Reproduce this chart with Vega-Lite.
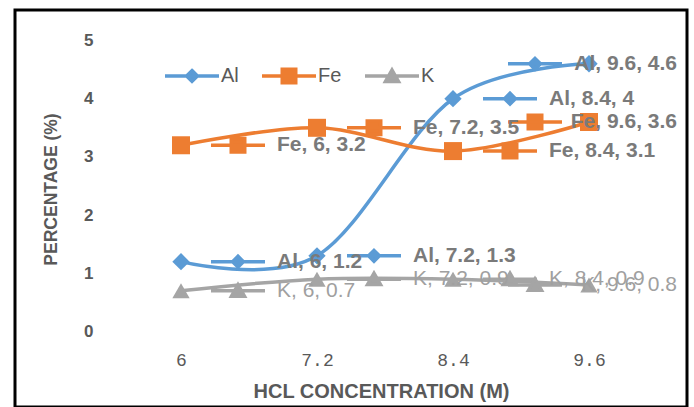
{
  "$schema": "https://vega.github.io/schema/vega-lite/v6.json",
  "width": 672,
  "height": 397,
  "autosize": {"type": "none"},
  "padding": {"left": 15, "top": 10, "right": 7, "bottom": 0},
  "background": "white",
  "config": {"view": {"stroke": "#000000", "strokeWidth": 3}, "font": "Liberation Sans"},
  "data": {"values": [
    {"series": "Al", "x": 6, "y": 1.2, "label": "Al, 6, 1.2"},
    {"series": "Al", "x": 7.2, "y": 1.3, "label": "Al, 7.2, 1.3"},
    {"series": "Al", "x": 8.4, "y": 4, "label": "Al, 8.4, 4"},
    {"series": "Al", "x": 9.6, "y": 4.6, "label": "Al, 9.6, 4.6"},
    {"series": "Fe", "x": 6, "y": 3.2, "label": "Fe, 6, 3.2"},
    {"series": "Fe", "x": 7.2, "y": 3.5, "label": "Fe, 7.2, 3.5"},
    {"series": "Fe", "x": 8.4, "y": 3.1, "label": "Fe, 8.4, 3.1"},
    {"series": "Fe", "x": 9.6, "y": 3.6, "label": "Fe, 9.6, 3.6"},
    {"series": "K", "x": 6, "y": 0.7, "label": "K, 6, 0.7"},
    {"series": "K", "x": 7.2, "y": 0.9, "label": "K, 7.2, 0.9"},
    {"series": "K", "x": 8.4, "y": 0.9, "label": "K, 8.4, 0.9"},
    {"series": "K", "x": 9.6, "y": 0.8, "label": "K, 9.6, 0.8"}
  ]},
  "encoding": {
    "x": {"field": "x", "type": "quantitative", "scale": {"domain": [4.5353, 10.4647], "nice": false, "zero": false},
      "axis": {"values": [6, 7.2, 8.4, 9.6], "format": ".1~f", "domain": false, "ticks": false, "tickSize": 0, "grid": false,
        "labelFont": "Liberation Mono", "labelFontSize": 18, "labelColor": "#595959", "labelPadding": 20, "labelFlush": false, "labelOverlap": false,
        "offset": -75.5, "title": "HCL CONCENTRATION (M)", "titleFont": "Liberation Sans", "titleFontSize": 20, "titleFontWeight": "bold", "titleColor": "#595959",
        "titleX": 366, "titleY": 65.5, "titleAlign": "center", "titleBaseline": "alphabetic"}},
    "y": {"field": "y", "type": "quantitative", "scale": {"domain": [-1.297, 5.524], "nice": false, "zero": false},
      "axis": {"values": [0, 1, 2, 3, 4, 5], "format": "d", "domain": false, "ticks": false, "tickSize": 0, "grid": false,
        "labelFont": "Liberation Sans", "labelFontSize": 17, "labelFontWeight": "bold", "labelColor": "#595959", "labelPadding": 20,
        "offset": -98, "title": "PERCENTAGE (%)", "titleFont": "Liberation Sans", "titleFontSize": 17.5, "titleFontWeight": "bold", "titleColor": "#595959",
        "titleX": -62, "titleY": 179, "titleAngle": -90, "titleAlign": "center", "titleBaseline": "middle"}}
  },
  "layer": [
    {
      "data": {"values": [{}]},
      "mark": {"type": "rule", "color": "#a6a6a6", "strokeWidth": 1.5},
      "encoding": {
        "x": {"datum": 5.4, "type": "quantitative"},
        "x2": {"datum": 10.2},
        "y": {"datum": 0, "type": "quantitative"}
      }
    },
    {
      "data": {"values": [{}]},
      "mark": {"type": "rule", "color": "#000000", "strokeWidth": 2},
      "encoding": {
        "x": {"datum": 5.4, "type": "quantitative"},
        "y": {"datum": 0, "type": "quantitative"},
        "y2": {"datum": 5}
      }
    },
    {
      "mark": {"type": "line", "interpolate": "cardinal", "strokeWidth": 3.5},
      "encoding": {
        "color": {"field": "series", "type": "nominal", "scale": {"domain": ["Al", "Fe", "K"], "range": ["#5B9BD5", "#ED7D31", "#A5A5A5"]}}
      }
    },
    {
      "transform": [{"filter": "datum.series == 'Al'"}],
      "mark": {"type": "point", "filled": true, "shape": "diamond", "size": 300, "opacity": 1},
      "encoding": {"color": {"field": "series", "type": "nominal"}}
    },
    {
      "transform": [{"filter": "datum.series == 'Fe'"}],
      "mark": {"type": "point", "filled": true, "shape": "square", "size": 324, "opacity": 1},
      "encoding": {"color": {"field": "series", "type": "nominal"}}
    },
    {
      "transform": [{"filter": "datum.series == 'K'"}],
      "mark": {"type": "point", "filled": true, "shape": "triangle-up", "size": 300, "opacity": 1},
      "encoding": {"color": {"field": "series", "type": "nominal"}}
    },
    {
      "transform": [{"filter": "datum.x < 9"}],
      "mark": {"type": "point", "filled": true, "size": 2916, "strokeWidth": 3.5, "opacity": 1, "xOffset": 57},
      "encoding": {
        "color": {"field": "series", "type": "nominal",
          "legend": {"orient": "none", "legendX": 148, "legendY": 37, "direction": "horizontal", "columns": 3, "gridAlign": "none", "title": null,
            "symbolSize": 2916, "symbolStrokeWidth": 3.5, "symbolOpacity": 1, "labelFont": "Liberation Sans", "labelFontSize": 20,
            "labelColor": "#595959", "columnPadding": 16, "labelOffset": 0, "padding": 0,
            "encode": {"symbols": {"update": {"stroke": {"scale": "color", "field": "value"}, "fill": {"scale": "color", "field": "value"}, "strokeWidth": {"value": 3.5}}}}}},
        "shape": {"field": "series", "type": "nominal", "scale": {"domain": ["Al", "Fe", "K"], "range": [
          "M-1,0L1,0M0,-0.2L0.2,0L0,0.2L-0.2,0Z",
          "M-1,0L1,0M-0.25,-0.25L0.25,-0.25L0.25,0.25L-0.25,0.25Z",
          "M-1,0L1,0M-0.24,0.2L0,-0.22L0.24,0.2Z"]}},
        "stroke": {"field": "series", "type": "nominal", "scale": {"domain": ["Al", "Fe", "K"], "range": ["#5B9BD5", "#ED7D31", "#A5A5A5"]}, "legend": null}
      }
    },
    {
      "transform": [{"filter": "datum.x > 9"}],
      "mark": {"type": "point", "filled": true, "size": 2916, "strokeWidth": 3.5, "opacity": 1, "xOffset": -54},
      "encoding": {
        "color": {"field": "series", "type": "nominal"},
        "shape": {"field": "series", "type": "nominal"},
        "stroke": {"field": "series", "type": "nominal", "legend": null}
      }
    },
    {
      "transform": [{"filter": "datum.x < 9 && datum.series != 'K'"}],
      "mark": {"type": "text", "align": "left", "baseline": "middle", "dx": 96, "font": "Liberation Sans", "fontSize": 21, "fontWeight": "bold", "color": "#7a7a7a"},
      "encoding": {"text": {"field": "label"}}
    },
    {
      "transform": [{"filter": "datum.x > 9 && datum.series != 'K'"}],
      "mark": {"type": "text", "align": "right", "baseline": "middle", "dx": 88, "font": "Liberation Sans", "fontSize": 21, "fontWeight": "bold", "color": "#7a7a7a"},
      "encoding": {"text": {"field": "label"}}
    },
    {
      "transform": [{"filter": "datum.x < 9 && datum.series == 'K'"}],
      "mark": {"type": "text", "align": "left", "baseline": "middle", "dx": 96, "font": "Liberation Sans", "fontSize": 21, "fontWeight": "normal", "color": "#a0a0a0"},
      "encoding": {"text": {"field": "label"}}
    },
    {
      "transform": [{"filter": "datum.x > 9 && datum.series == 'K'"}],
      "mark": {"type": "text", "align": "right", "baseline": "middle", "dx": 88, "font": "Liberation Sans", "fontSize": 21, "fontWeight": "normal", "color": "#a0a0a0"},
      "encoding": {"text": {"field": "label"}}
    }
  ]
}
